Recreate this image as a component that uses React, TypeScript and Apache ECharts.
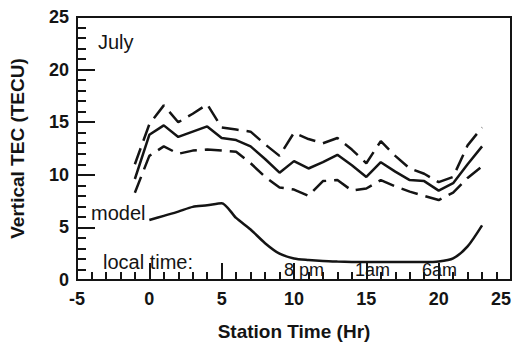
import React, { useEffect, useRef } from "react";
import * as echarts from "echarts";

const hours = [-1, 0, 1, 2, 3, 4, 5, 6, 7, 8, 9, 10, 11, 12, 13, 14, 15, 16, 17, 18, 19, 20, 21, 22, 23];
const meanTec = [9.6, 13.8, 14.7, 13.6, 14.1, 14.6, 13.5, 13.3, 12.7, 11.5, 10.2, 11.3, 10.6, 11.2, 11.9, 10.9, 9.8, 11.2, 10.3, 9.5, 9.4, 8.5, 9.2, 11.0, 12.7];
const upperTec = [11.0, 14.8, 16.6, 15.0, 15.8, 16.7, 14.5, 14.3, 14.1, 12.9, 11.8, 14.0, 13.4, 13.0, 13.5, 12.4, 11.1, 13.2, 11.8, 10.6, 10.1, 9.3, 9.8, 12.8, 14.5];
const lowerTec = [8.3, 11.8, 12.7, 12.0, 12.3, 12.4, 12.3, 12.2, 11.1, 9.8, 8.8, 8.6, 8.0, 9.4, 9.5, 8.5, 8.7, 9.5, 8.9, 8.4, 8.0, 7.6, 8.3, 9.7, 10.8];
const modelHours = [0, 1, 2, 3, 4, 5, 6, 7, 8, 9, 10, 11, 12, 13, 14, 15, 16, 17, 18, 19, 20, 21, 22, 23];
const modelTec = [5.7, 6.1, 6.5, 6.95, 7.1, 7.3, 5.9, 4.8, 3.5, 2.5, 2.05, 1.9, 1.8, 1.75, 1.72, 1.7, 1.7, 1.7, 1.7, 1.7, 1.75, 2.05, 3.2, 5.2];
const localTimeLabels = ["8 pm", "1am", "6am"];

const FONT = "'Liberation Sans', Arial, Helvetica, sans-serif";
const INK = "#141414";

export default function App() {
  const ref = useRef<HTMLDivElement>(null);
  useEffect(() => {
    if (!ref.current) return;
    const chart = echarts.init(ref.current, null, { renderer: "svg" });
    const pair = (xs: number[], ys: number[]) => xs.map((x, i) => [x, ys[i]]);
    const lineBase = { type: "line", showSymbol: false, symbol: "none", silent: true };
    const txt = (text: string, left: number, top: number, size = 20) => ({
      type: "text", left, top, z: 10, style: { text, font: `${size}px ${FONT}`, fill: INK },
    });
    chart.setOption({
      animation: false,
      backgroundColor: "#ffffff",
      grid: { left: 77, right: 11, top: 17, bottom: 70, show: true, borderColor: INK, borderWidth: 2 },
      xAxis: {
        type: "value", min: -5, max: 25, interval: 5,
        name: "Station Time (Hr)", nameLocation: "middle", nameGap: 42,
        nameTextStyle: { fontFamily: FONT, fontWeight: "bold", fontSize: 19, color: INK },
        axisLine: { show: true, onZero: false, lineStyle: { color: INK, width: 2 } },
        axisTick: { show: true, inside: true, length: 17, lineStyle: { color: INK, width: 2 } },
        minorTick: { show: true, splitNumber: 5, length: 8, lineStyle: { color: INK, width: 2 } },
        splitLine: { show: false },
        axisLabel: { fontFamily: FONT, fontWeight: "bold", fontSize: 18, color: INK, margin: 10, alignMaxLabel: "right" },
      },
      yAxis: {
        type: "value", min: 0, max: 25, interval: 5,
        name: "Vertical TEC (TECU)", nameLocation: "middle", nameGap: 50,
        nameTextStyle: { fontFamily: FONT, fontWeight: "bold", fontSize: 19, color: INK },
        axisLine: { show: true, onZero: false, lineStyle: { color: INK, width: 2 } },
        axisTick: { show: true, inside: true, length: 18, lineStyle: { color: INK, width: 2 } },
        minorTick: { show: true, splitNumber: 5, length: 9, lineStyle: { color: INK, width: 2 } },
        splitLine: { show: false },
        axisLabel: { fontFamily: FONT, fontWeight: "bold", fontSize: 18, color: INK, margin: 8 },
      },
      series: [
        { ...lineBase, name: "mean", data: pair(hours, meanTec), lineStyle: { color: INK, width: 2.5 } },
        { ...lineBase, name: "upper", data: pair(hours, upperTec), lineStyle: { color: INK, width: 2.5, type: [17, 8] } },
        { ...lineBase, name: "lower", data: pair(hours, lowerTec), lineStyle: { color: INK, width: 2.5, type: [17, 8] } },
        { ...lineBase, name: "model", data: pair(modelHours, modelTec), smooth: 0.25, lineStyle: { color: INK, width: 2.5 } },
      ],
      graphic: [
        txt("July", 98, 32),
        txt("model", 91, 203),
        txt("local time:", 103, 252),
        txt(localTimeLabels[0], 284, 261, 18),
        txt(localTimeLabels[1], 355, 261, 18),
        txt(localTimeLabels[2], 422, 261, 18),
      ],
    });
    return () => chart.dispose();
  }, []);
  return (
    <div
      ref={ref}
      style={{ position: "absolute", left: 0, top: 0, width: 522, height: 350, background: "#fff" }}
    />
  );
}
